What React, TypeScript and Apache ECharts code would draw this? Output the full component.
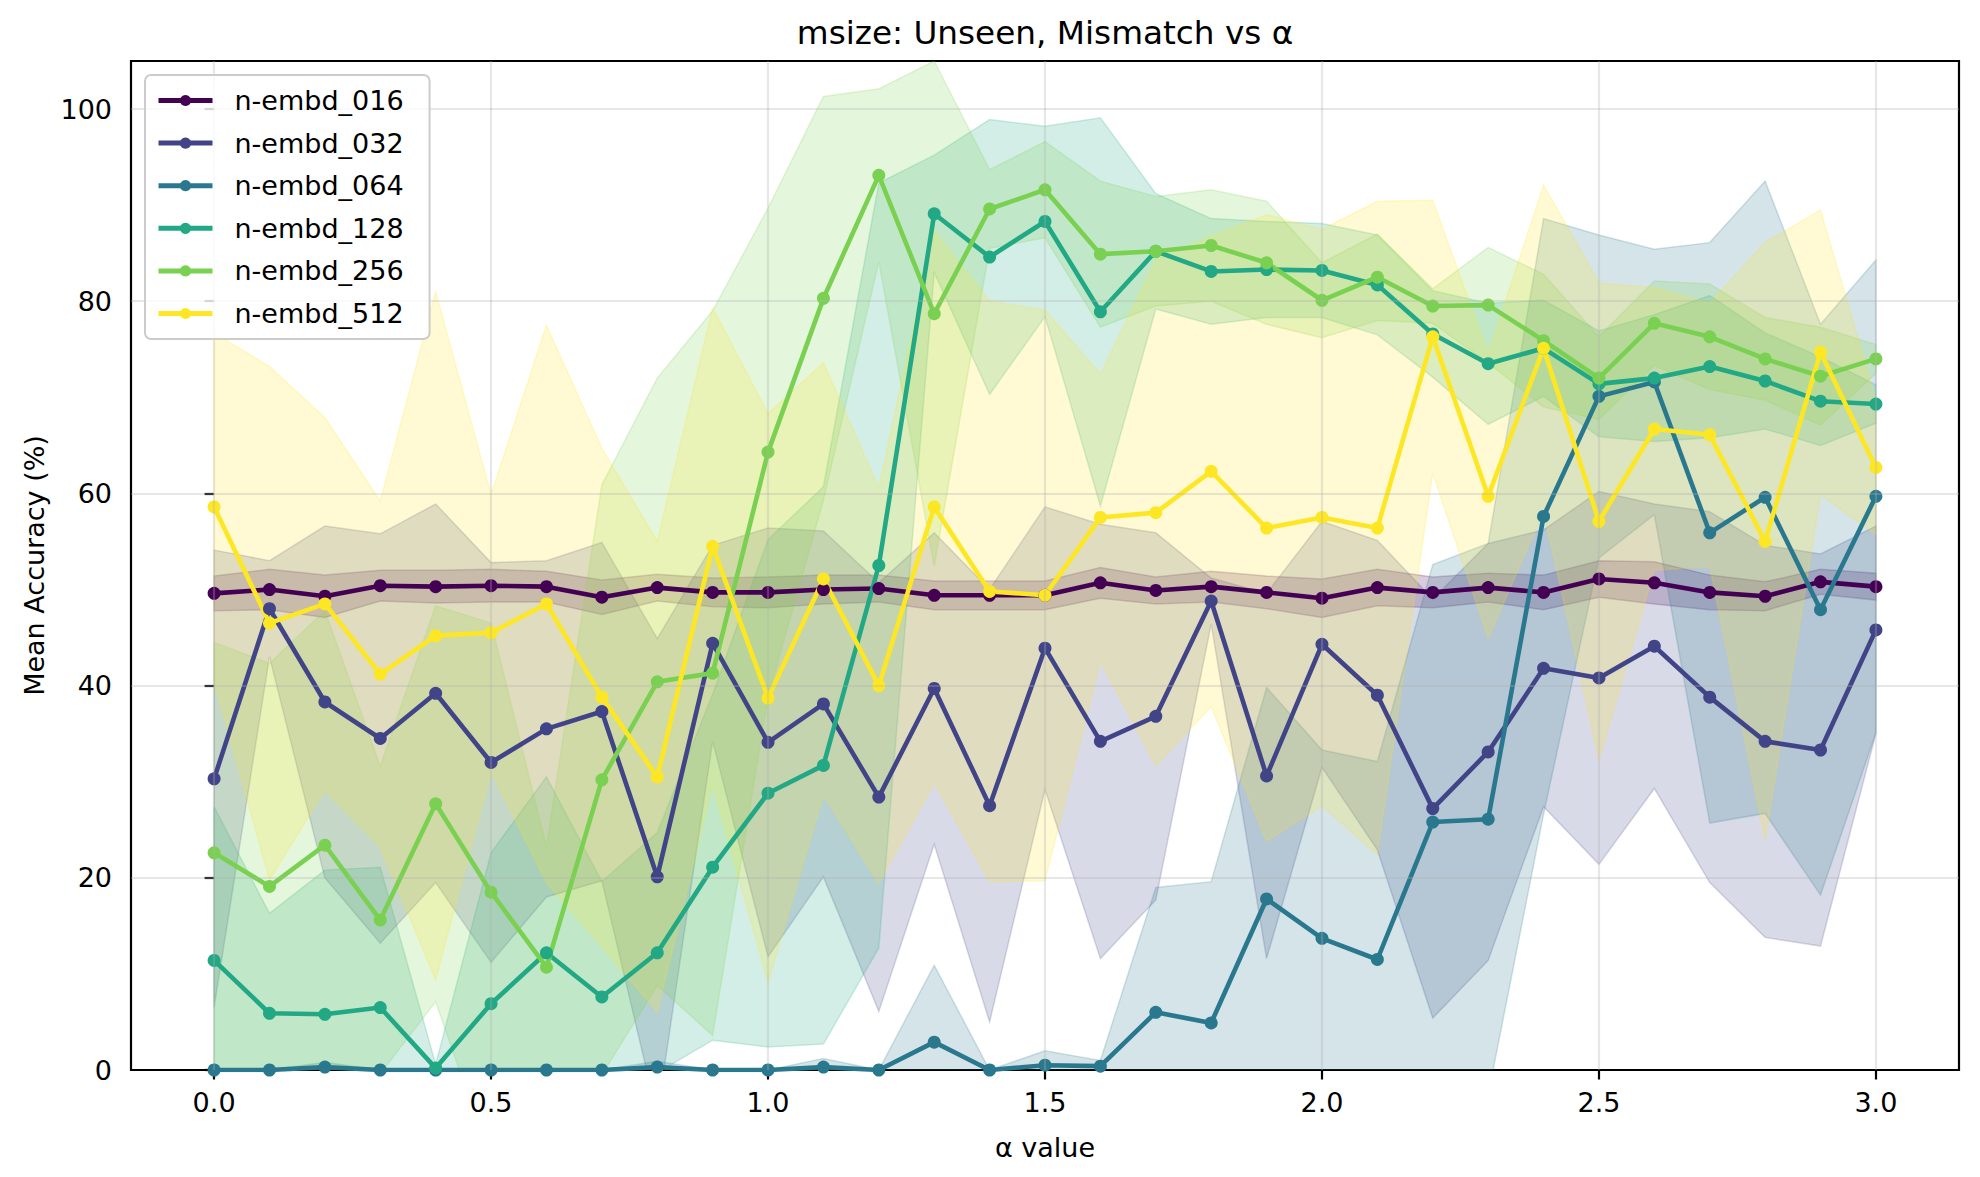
import React, { useEffect, useRef } from 'react';
import * as echarts from 'echarts';

const X = [0, 0.1, 0.2, 0.3, 0.4, 0.5, 0.6, 0.7, 0.8, 0.9, 1.0, 1.1, 1.2, 1.3, 1.4, 1.5, 1.6, 1.7, 1.8, 1.9, 2.0, 2.1, 2.2, 2.3, 2.4, 2.5, 2.6, 2.7, 2.8, 2.9, 3.0];
const X_TICKS = [0, 0.5, 1.0, 1.5, 2.0, 2.5, 3.0];
const Y_TICKS = [0, 20, 40, 60, 80, 100];

const NAMES = ['n-embd_016', 'n-embd_032', 'n-embd_064', 'n-embd_128', 'n-embd_256', 'n-embd_512'];
const COLORS = ['#440154', '#414487', '#2a788e', '#22a884', '#7ad151', '#fde725'];

const MEAN_016 = [49.6, 50.0, 49.3, 50.4, 50.3, 50.4, 50.3, 49.2, 50.2, 49.7, 49.7, 50.0, 50.1, 49.4, 49.4, 49.4, 50.7, 49.9, 50.3, 49.7, 49.1, 50.2, 49.7, 50.2, 49.7, 51.1, 50.7, 49.7, 49.3, 50.8, 50.3];
const STD_016 = [1.8, 2.1, 2.2, 1.6, 1.7, 1.7, 1.6, 1.8, 1.4, 1.5, 1.6, 1.5, 1.4, 1.5, 1.5, 1.5, 1.6, 1.4, 1.6, 1.7, 2.0, 1.9, 1.6, 1.5, 1.8, 1.9, 2.2, 1.8, 1.5, 1.3, 1.4];

const MEAN_032 = [30.3, 48.0, 38.3, 34.5, 39.2, 32.0, 35.5, 37.3, 20.1, 44.4, 34.1, 38.1, 28.4, 39.7, 27.5, 43.9, 34.2, 36.8, 48.8, 30.6, 44.3, 39.0, 27.2, 33.1, 41.8, 40.8, 44.1, 38.8, 34.2, 33.3, 45.8];
const STD_032 = [23.8, 5.0, 18.3, 21.3, 19.7, 20.8, 17.5, 17.6, 24.8, 10.2, 22.3, 18.0, 22.3, 16.2, 22.5, 14.7, 22.6, 19.1, 2.4, 19.0, 12.8, 16.1, 21.8, 21.7, 14.4, 19.4, 14.8, 19.3, 20.4, 20.4, 10.8];

const MEAN_064 = [0, 0, 0.3, 0, 0, 0, 0, 0, 0.3, 0, 0, 0.3, 0, 2.9, 0, 0.5, 0.4, 6.0, 4.9, 17.8, 13.7, 11.5, 25.8, 26.1, 57.6, 70.1, 71.6, 55.9, 59.6, 47.9, 59.7];
const STD_064 = [0, 0, 0.5, 0, 0, 0, 0, 0, 0.6, 0, 0, 0.9, 0, 8.0, 0, 1.5, 0.6, 13.0, 14.7, 22.0, 19.6, 20.6, 26.8, 28.7, 31.0, 16.8, 13.8, 30.2, 32.9, 29.7, 24.6];

const MEAN_128 = [11.4, 5.9, 5.8, 6.5, 0.2, 6.9, 12.2, 7.6, 12.2, 21.1, 28.8, 31.7, 52.5, 89.1, 84.6, 88.3, 78.9, 85.2, 83.1, 83.3, 83.2, 81.7, 76.6, 73.5, 75.1, 71.4, 72.0, 73.2, 71.7, 69.6, 69.3];
const STD_128 = [16.0, 10.4, 15.0, 14.6, 0.4, 15.7, 18.3, 12.0, 12.5, 18.0, 26.4, 29.0, 39.8, 6.1, 14.3, 9.9, 20.2, 6.0, 5.5, 5.0, 4.9, 5.2, 4.5, 6.3, 5.0, 5.5, 6.6, 7.4, 5.0, 4.6, 2.0];

const MEAN_256 = [22.6, 19.1, 23.4, 15.6, 27.7, 18.5, 10.7, 30.2, 40.4, 41.3, 64.3, 80.3, 93.1, 78.7, 89.6, 91.6, 84.9, 85.2, 85.8, 84.0, 80.1, 82.5, 79.5, 79.6, 75.9, 72.0, 77.7, 76.3, 74.0, 72.2, 74.0];
const STD_256 = [21.9, 23.2, 24.4, 16.0, 20.6, 28.0, 12.5, 30.7, 31.6, 37.7, 25.4, 21.0, 9.0, 26.3, 4.1, 5.0, 7.6, 5.7, 5.8, 6.4, 3.9, 4.5, 1.8, 6.0, 6.9, 4.3, 4.4, 5.5, 4.3, 5.1, 1.5];

const MEAN_512 = [58.6, 46.5, 48.5, 41.2, 45.2, 45.5, 48.5, 38.8, 30.5, 54.5, 38.7, 51.1, 40.0, 58.6, 49.8, 49.4, 57.5, 58.0, 62.3, 56.4, 57.5, 56.4, 76.3, 59.7, 75.1, 57.1, 66.7, 66.1, 55.0, 74.7, 62.7];
const STD_512 = [18.1, 26.7, 19.4, 18.0, 35.8, 14.4, 29.0, 25.9, 24.5, 24.8, 29.6, 22.5, 20.6, 28.7, 30.2, 29.7, 14.9, 26.3, 24.5, 32.6, 30.0, 34.0, 14.2, 14.8, 17.0, 24.8, 14.7, 13.7, 31.1, 14.8, 7.0];

const MEANS = [MEAN_016, MEAN_032, MEAN_064, MEAN_128, MEAN_256, MEAN_512];
const STDS = [STD_016, STD_032, STD_064, STD_128, STD_256, STD_512];

const TITLE = 'msize: Unseen, Mismatch vs α';
const X_LABEL = 'α value';
const Y_LABEL = 'Mean Accuracy (%)';

function rgba(hex: string, a: number) {
  const h = hex.replace('#', '');
  const r = parseInt(h.slice(0, 2), 16);
  const g = parseInt(h.slice(2, 4), 16);
  const b = parseInt(h.slice(4, 6), 16);
  return `rgba(${r},${g},${b},${a})`;
}

export default function App() {
  const ref = useRef<HTMLDivElement>(null);

  useEffect(() => {
    const chart = echarts.init(ref.current as HTMLDivElement, null, { renderer: 'svg' });
    const FONT = 'DejaVu Sans';
    const GRID = 'rgba(176,176,176,0.3)';
    const L = 131, T = 61, W = 1828, H = 1009;

    const series: any[] = [];
    NAMES.forEach((name, k) => {
      const mean = MEANS[k];
      const std = STDS[k];
      const upper = mean.map((m, i) => m + std[i]);
      const lower = mean.map((m, i) => m - std[i]);
      const color = COLORS[k];
      series.push({
        type: 'custom',
        name: name + ' band',
        silent: true,
        clip: true,
        z: 1,
        data: [[X[0], mean[0]]],
        renderItem: (params: any, api: any) => {
          const pts: number[][] = [];
          for (let i = 0; i < X.length; i++) pts.push(api.coord([X[i], upper[i]]));
          for (let i = X.length - 1; i >= 0; i--) pts.push(api.coord([X[i], lower[i]]));
          return {
            type: 'polygon',
            shape: { points: pts },
            style: { fill: rgba(color, 0.2), stroke: rgba(color, 0.2), lineWidth: 1.5 },
          };
        },
      });
    });

    series.push({
      type: 'line',
      name: 'gridlines',
      data: [[X[0], MEAN_016[0]]],
      symbol: 'none',
      lineStyle: { opacity: 0 },
      silent: true,
      z: 2,
      markLine: {
        silent: true,
        symbol: ['none', 'none'],
        label: { show: false },
        emphasis: { disabled: true },
        lineStyle: { color: GRID, width: 2.2, type: 'solid' },
        data: [
          ...X_TICKS.map((v) => ({ xAxis: v })),
          ...Y_TICKS.filter((v) => v > 0).map((v) => ({ yAxis: v })),
        ],
      },
    });

    NAMES.forEach((name, k) => {
      series.push({
        type: 'line',
        name,
        data: X.map((x, i) => [x, MEANS[k][i]]),
        symbol: 'circle',
        symbolSize: 13,
        showSymbol: true,
        lineStyle: { width: 4.6, color: COLORS[k] },
        itemStyle: { color: COLORS[k] },
        emphasis: { disabled: true },
        silent: true,
        z: 3,
      });
    });

    const option: any = {
      animation: false,
      backgroundColor: '#ffffff',
      grid: { left: L, top: T, width: W, height: H, show: true, borderColor: '#000', borderWidth: 2.2, backgroundColor: 'transparent' },
      xAxis: {
        type: 'value',
        min: -0.15,
        max: 3.15,
        axisLine: { show: false },
        axisTick: { show: true, customValues: X_TICKS, length: 9.5, lineStyle: { color: '#000', width: 2.2 } },
        axisLabel: { customValues: X_TICKS, formatter: (v: number) => v.toFixed(1), fontSize: 27, color: '#000', fontFamily: FONT, margin: 19 },
        splitLine: { show: false },
      },
      yAxis: {
        type: 'value',
        min: 0,
        max: 105,
        interval: 20,
        axisLine: { show: false },
        axisTick: { show: true, customValues: Y_TICKS, length: 9.5, lineStyle: { color: '#000', width: 2.2 } },
        axisLabel: { customValues: Y_TICKS, fontSize: 27, color: '#000', fontFamily: FONT, margin: 19 },
        splitLine: { show: false },
      },
      legend: {
        data: NAMES,
        orient: 'vertical',
        left: 145,
        top: 75,
        itemWidth: 54,
        itemHeight: 14,
        itemGap: 13.6,
        padding: [11, 26, 11, 11],
        backgroundColor: 'rgba(255,255,255,0.8)',
        borderColor: '#cccccc',
        borderWidth: 2,
        borderRadius: 6,
        selectedMode: false,
        lineStyle: { width: 5 },
        textStyle: { fontSize: 27, color: '#000', fontFamily: FONT, lineHeight: 29, padding: [0, 0, 0, 17] },
        z: 10,
      },
      graphic: [
        { type: 'text', x: L + W / 2, y: 33, style: { text: TITLE, fill: '#000', font: `32.7px "${FONT}"`, align: 'center', verticalAlign: 'middle' }, z: 10 },
        { type: 'text', x: L + W / 2, y: 1147, style: { text: X_LABEL, fill: '#000', font: `27px "${FONT}"`, align: 'center', verticalAlign: 'middle' }, z: 10 },
        { type: 'text', x: 34, y: T + H / 2, rotation: Math.PI / 2, style: { text: Y_LABEL, fill: '#000', font: `27px "${FONT}"`, align: 'center', verticalAlign: 'middle' }, z: 10 },
      ],
      series,
    };

    chart.setOption(option);
    return () => chart.dispose();
  }, []);

  return <div ref={ref} style={{ position: 'fixed', left: 0, top: 0, width: 1980, height: 1177, background: '#fff' }} />;
}
